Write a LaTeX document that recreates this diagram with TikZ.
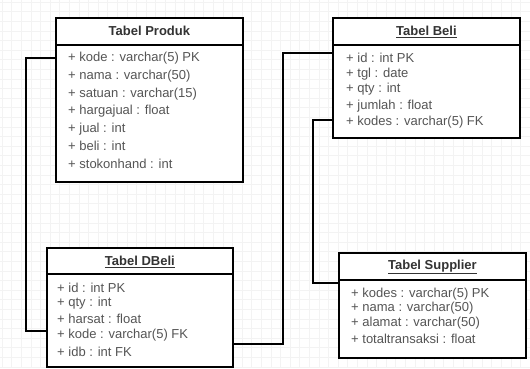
\documentclass[tikz,border=0pt]{standalone}
\usepackage{fontspec}
\setmainfont{Liberation Sans}
\definecolor{txt}{HTML}{555555}
\definecolor{ttl}{HTML}{333333}
\definecolor{gridc}{HTML}{F3F3F3}
\begin{document}
\begin{tikzpicture}[x=1pt,y=-1pt,
  box/.style={draw=black, line width=1.8pt, fill=white, anchor=north west, inner sep=0pt},
  hdr/.style={draw=black, line width=1.4pt},
  rowtxt/.style={anchor=west, inner sep=0pt, text=txt, font=\fontsize{13}{14}\selectfont},
  title/.style={inner sep=0pt, text=ttl, font=\fontsize{13}{14}\selectfont\bfseries},
  link/.style={draw=black, line width=1.8pt}]
\useasboundingbox (0,0) rectangle (530,368);
\fill[white] (0,0) rectangle (530,368);
\foreach \i in {0,...,55} {\draw[gridc, line width=0.5pt] (\i*9.6+2,0) -- (\i*9.6+2,368);}
\foreach \i in {0,...,38} {\draw[gridc, line width=0.5pt] (0,\i*9.6+2) -- (530,\i*9.6+2);}

% Tabel Produk
\node[box, minimum width=187pt, minimum height=164pt] (produk) at (55,17) {};
\draw[hdr] ([yshift=-28pt]produk.north west) -- ([yshift=-28pt]produk.north east);
\node[title] (tp) at ([yshift=-14pt]produk.north) {Tabel Produk};
\node[rowtxt] (p1) at (68,58) {+ kode : varchar(5) PK};
\node[rowtxt] (p2) at (68,76) {+ nama : varchar(50)};
\node[rowtxt] (p3) at (68,94) {+ satuan : varchar(15)};
\node[rowtxt] (p4) at (68,111) {+ hargajual : float};
\node[rowtxt] (p5) at (68,129) {+ jual : int};
\node[rowtxt] (p6) at (68,146) {+ beli : int};
\node[rowtxt] (p7) at (68,164) {+ stokonhand : int};

% Tabel Beli
\node[box, minimum width=187pt, minimum height=120pt] (beli) at (332,17) {};
\draw[hdr] ([yshift=-28pt]beli.north west) -- ([yshift=-28pt]beli.north east);
\node[title] (tb) at ([yshift=-15pt]beli.north) {\underline{Tabel Beli}};
\node[rowtxt] (b1) at (346,58) {+ id : int PK};
\node[rowtxt] (b2) at (346,74) {+ tgl : date};
\node[rowtxt] (b3) at (346,89) {+ qty : int};
\node[rowtxt] (b4) at (346,106) {+ jumlah : float};
\node[rowtxt] (b5) at (346,122) {+ kodes : varchar(5) FK};

% Tabel DBeli
\node[box, minimum width=186pt, minimum height=119pt] (dbeli) at (46,247) {};
\draw[hdr] ([yshift=-27pt]dbeli.north west) -- ([yshift=-27pt]dbeli.north east);
\node[title] (td) at ([yshift=-15pt]dbeli.north) {\underline{Tabel DBeli}};
\node[rowtxt] (d1) at (57,288) {+ id : int PK};
\node[rowtxt] (d2) at (57,303) {+ qty : int};
\node[rowtxt] (d3) at (57,319) {+ harsat : float};
\node[rowtxt] (d4) at (57,335) {+ kode : varchar(5) FK};
\node[rowtxt] (d5) at (57,352) {+ idb : int FK};

% Tabel Supplier
\node[box, minimum width=187pt, minimum height=105pt] (supp) at (338,252) {};
\draw[hdr] ([yshift=-28pt]supp.north west) -- ([yshift=-28pt]supp.north east);
\node[title] (ts) at ([yshift=-15pt]supp.north) {\underline{Tabel Supplier}};
\node[rowtxt] (s1) at (351,294) {+ kodes : varchar(5) PK};
\node[rowtxt] (s2) at (351,308) {+ nama : varchar(50)};
\node[rowtxt] (s3) at (351,323) {+ alamat : varchar(50)};
\node[rowtxt] (s4) at (351,339) {+ totaltransaksi : float};

% connectors
\draw[link] (produk.west |- 0,58) -- (26,58) -- (26,331) -- (dbeli.west |- 0,331);
\draw[link] (dbeli.east |- 0,344) -- (283,344) -- (283,53) -- (beli.west |- 0,53);
\draw[link] (beli.west |- 0,120) -- (313,120) -- (313,283) -- (supp.west |- 0,283);
\end{tikzpicture}
\end{document}
